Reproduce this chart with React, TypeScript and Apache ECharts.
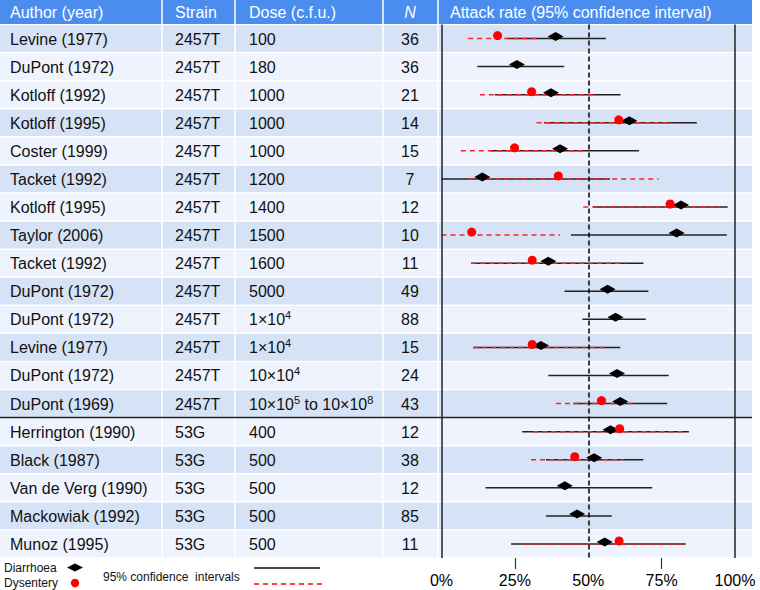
import React, { useEffect, useRef } from "react";
import * as echarts from "echarts";

// ---------- data ----------
const authors = [
  "Levine (1977)", "DuPont (1972)", "Kotloff (1992)", "Kotloff (1995)", "Coster (1999)",
  "Tacket (1992)", "Kotloff (1995)", "Taylor (2006)", "Tacket (1992)", "DuPont (1972)",
  "DuPont (1972)", "Levine (1977)", "DuPont (1972)", "DuPont (1969)", "Herrington (1990)",
  "Black (1987)", "Van de Verg (1990)", "Mackowiak (1992)", "Munoz (1995)",
];
const strains = [
  "2457T", "2457T", "2457T", "2457T", "2457T", "2457T", "2457T", "2457T", "2457T", "2457T",
  "2457T", "2457T", "2457T", "2457T", "53G", "53G", "53G", "53G", "53G",
];
const doses = [
  "100", "180", "1000", "1000", "1000", "1200", "1400", "1500", "1600", "5000",
  "1×10⁴", "1×10⁴", "10×10⁴", "10×10⁵ to 10×10⁸", "400", "500", "500", "500", "500",
];
const nValues = [36, 36, 21, 14, 15, 7, 12, 10, 11, 49, 88, 15, 24, 43, 12, 38, 12, 85, 11];

const diarrhoeaRate = [38.9, 25.7, 37.3, 64, 40.4, 13.9, 81.6, 80.1, 36.4, 56.6, 59.3, 33.9, 59.8, 60.9, 57.6, 52, 42, 46.2, 55.6];
const diarrhoeaLow = [22.2, 12.2, 18.2, 35, 16.5, 0, 51.7, 44.1, 10.1, 41.9, 48, 10.8, 36.4, 44.9, 27.5, 35.6, 15, 35.6, 23.7];
const diarrhoeaHigh = [56, 41.8, 61, 87, 67.3, 57.4, 97.5, 97.2, 68.8, 70.5, 69.6, 60.9, 77.4, 76.9, 84.3, 68.8, 71.8, 58, 83.2];

const dysenteryRate = [19.1, null, 30.7, 60.4, 24.9, 39.8, 77.9, 10.3, 30.9, null, null, 30.9, null, 54.5, 60.7, 45.4, null, null, 60.5];
const dysenteryLow = [9.1, null, 13.1, 32.4, 6.6, 9.1, 48.3, 0, 10.1, null, null, 10.8, null, 39, 31.3, 30.5, null, null, 27.9];
const dysenteryHigh = [33, null, 52.3, 78.7, 49.5, 73.9, 94.9, 40.4, 62.5, null, null, 55.9, null, 66.2, 83, 62, null, null, 83.2];

const headers = ["Author (year)", "Strain", "Dose (c.f.u.)", "N", "Attack rate (95% confidence interval)"];
const xTicks = [0, 25, 50, 75, 100];

// ---------- layout / style ----------
const FONT = "'Liberation Sans', Arial, Helvetica, sans-serif";
const COL_EDGES = [0, 162, 235, 383, 438, 752];
const TEXT_X = [10, 175, 249, 410, 450];
const HEADER_H = 24;
const BLUE = "#4a8def";
const DARK = "#d6e2f5";
const LIGHT = "#eef3fd";
const TXT = "#111";

const SUP = "⁰¹²³⁴⁵⁶⁷⁸⁹";
const toRich = (s: string) =>
  s.replace(/[⁰¹²³⁴⁵⁶⁷⁸⁹]+/g, (m) => "{sup|" + Array.from(m).map((c) => SUP.indexOf(c)).join("") + "}");

const isDark = (i: number) => i === 0 || (i % 2 === 1 && i > 1);

function buildOption() {
  const n = authors.length;
  const tableData = authors.map((_, i) => [0, i]);
  const diarCI = authors.map((_, i) => [diarrhoeaLow[i], diarrhoeaHigh[i], i]);
  const dysCI = authors
    .map((_, i) => (dysenteryLow[i] == null ? null : [dysenteryLow[i], dysenteryHigh[i], i]))
    .filter((d) => d !== null);
  const diarPts = diarrhoeaRate.map((v, i) => [v, i]);
  const dysPts = dysenteryRate
    .map((v, i) => (v == null ? null : [v, i]))
    .filter((d) => d !== null);

  const headerChildren: any[] = [];
  for (let k = 0; k < COL_EDGES.length - 1; k++) {
    const x0 = COL_EDGES[k] + (k ? 0.75 : 0);
    const x1 = COL_EDGES[k + 1] - (k < COL_EDGES.length - 2 ? 0.75 : 0);
    headerChildren.push({
      type: "rect",
      shape: { x: x0, y: 0, width: x1 - x0, height: HEADER_H },
      style: { fill: BLUE },
    });
    headerChildren.push({
      type: "text",
      x: TEXT_X[k],
      y: HEADER_H / 2 + 0.5,
      style: {
        text: headers[k],
        fill: "#fff",
        fontSize: 16,
        fontFamily: FONT,
        fontStyle: k === 3 ? "italic" : "normal",
        align: k === 3 ? "center" : "left",
        verticalAlign: "middle",
      },
    });
  }

  const legendChildren: any[] = [
    { type: "text", x: 4, y: 568, style: { text: "Diarrhoea", fill: TXT, fontSize: 12, fontFamily: FONT, verticalAlign: "middle" } },
    { type: "text", x: 4, y: 583, style: { text: "Dysentery", fill: TXT, fontSize: 12, fontFamily: FONT, verticalAlign: "middle" } },
    { type: "polygon", shape: { points: [[67, 567.5], [75, 563.5], [83, 567.5], [75, 571.5]] }, style: { fill: "#000" } },
    { type: "circle", shape: { cx: 75, cy: 583, r: 4.2 }, style: { fill: "#f00" } },
    { type: "text", x: 103, y: 577, style: { text: "95% confidence  intervals", fill: TXT, fontSize: 12, fontFamily: FONT, verticalAlign: "middle" } },
    { type: "line", shape: { x1: 254, y1: 568, x2: 320, y2: 568 }, style: { stroke: "#111", lineWidth: 1.5 } },
    { type: "line", shape: { x1: 254, y1: 584, x2: 325, y2: 584 }, style: { stroke: "#f00", lineWidth: 1.5, lineDash: [5, 4] } },
  ];

  return {
    animation: false,
    textStyle: { fontFamily: FONT },
    grid: { left: 441.5, right: 25, top: 24.5, bottom: 32, containLabel: false },
    xAxis: {
      type: "value",
      min: xTicks[0],
      max: xTicks[xTicks.length - 1],
      interval: 25,
      axisLine: { show: false },
      splitLine: { show: false },
      axisTick: { show: true, length: 11, customValues: [25, 75], lineStyle: { color: "#333", width: 1.2 } },
      axisLabel: { formatter: "{value}%", fontSize: 16, color: "#000", margin: 14, fontFamily: FONT },
    },
    yAxis: { type: "category", data: authors, inverse: true, show: false },
    graphic: [
      { type: "group", children: headerChildren },
      { type: "group", children: legendChildren },
    ],
    series: [
      {
        type: "custom",
        name: "table",
        z: 0,
        clip: false,
        silent: true,
        data: tableData,
        encode: { x: 0, y: 1 },
        renderItem: (params: any, api: any) => {
          const i = api.value(1) as number;
          const c = api.coord([0, i]);
          const h = api.size([0, 1])[1];
          const cy = c[1];
          const top = cy - h / 2;
          const fill = isDark(i) ? DARK : LIGHT;
          const children: any[] = [];
          for (let k = 0; k < COL_EDGES.length - 1; k++) {
            const x0 = COL_EDGES[k] + (k ? 0.75 : 0);
            const x1 = COL_EDGES[k + 1] - (k < COL_EDGES.length - 2 ? 0.75 : 0);
            children.push({
              type: "rect",
              shape: { x: x0, y: top + 0.75, width: x1 - x0, height: h - 1.5 },
              style: { fill },
            });
          }
          const cells = [authors[i], strains[i], toRich(doses[i]), String(nValues[i])];
          cells.forEach((t, k) => {
            children.push({
              type: "text",
              x: TEXT_X[k],
              y: cy + 0.5,
              style: {
                text: t,
                fill: TXT,
                fontSize: 16,
                fontFamily: FONT,
                lineHeight: 20,
                align: k === 3 ? "center" : "left",
                verticalAlign: "middle",
                rich: { sup: { fontSize: 11, lineHeight: 10, verticalAlign: "top" } },
              },
            });
          });
          if (i < n - 1 && strains[i] !== strains[i + 1]) {
            children.push({
              type: "line",
              z2: 20,
              shape: { x1: 0, y1: top + h, x2: 752, y2: top + h },
              style: { stroke: "#222", lineWidth: 1.5 },
            });
          }
          return { type: "group", children };
        },
      },
      {
        type: "scatter",
        name: "refs",
        z: 1,
        data: [],
        silent: true,
        markLine: {
          silent: true,
          symbol: "none",
          label: { show: false },
          animation: false,
          data: [
            { xAxis: 0, lineStyle: { color: "#222", width: 1.5, type: "solid" } },
            { xAxis: 100, lineStyle: { color: "#222", width: 1.5, type: "solid" } },
            { xAxis: 50, lineStyle: { color: "#000", width: 1.5, type: [5, 3] } },
          ],
        },
      },
      {
        type: "custom",
        name: "Diarrhoea CI",
        z: 2,
        data: diarCI,
        encode: { x: [0, 1], y: 2 },
        renderItem: (params: any, api: any) => {
          const p1 = api.coord([api.value(0), api.value(2)]);
          const p2 = api.coord([api.value(1), api.value(2)]);
          return {
            type: "line",
            shape: { x1: p1[0], y1: p1[1], x2: p2[0], y2: p2[1] },
            style: { stroke: "#222", lineWidth: 1.5 },
          };
        },
      },
      {
        type: "custom",
        name: "Dysentery CI",
        z: 3,
        data: dysCI,
        encode: { x: [0, 1], y: 2 },
        renderItem: (params: any, api: any) => {
          const p1 = api.coord([api.value(0), api.value(2)]);
          const p2 = api.coord([api.value(1), api.value(2)]);
          return {
            type: "line",
            shape: { x1: p1[0], y1: p1[1], x2: p2[0], y2: p2[1] },
            style: { stroke: "#f22", lineWidth: 1.5, lineDash: [5, 4] },
          };
        },
      },
      {
        type: "scatter",
        name: "Diarrhoea",
        z: 4,
        symbol: "diamond",
        symbolSize: [16, 9],
        symbolOffset: [0, -2],
        itemStyle: { color: "#000", opacity: 1 },
        data: diarPts,
      },
      {
        type: "scatter",
        name: "Dysentery",
        z: 5,
        symbol: "circle",
        symbolSize: 9,
        symbolOffset: [0, -3],
        itemStyle: { color: "#f00", opacity: 1 },
        data: dysPts,
      },
    ],
  };
}

export default function App() {
  const ref = useRef<HTMLDivElement>(null);
  useEffect(() => {
    const chart = echarts.init(ref.current!, null, { renderer: "svg" });
    chart.setOption(buildOption() as any);
    return () => chart.dispose();
  }, []);
  return (
    <div
      ref={ref}
      style={{ position: "fixed", left: 0, top: 0, width: 760, height: 590, background: "#fff" }}
    />
  );
}
